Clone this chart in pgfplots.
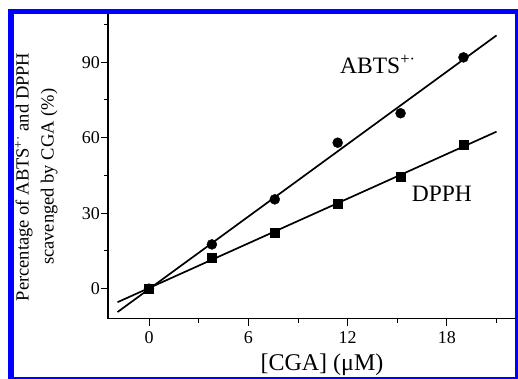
\documentclass[border=0pt]{standalone}
\usepackage{pgfplots}
\pgfplotsset{compat=1.18}
\usepackage{fontspec}
\setmainfont{Liberation Serif}
\definecolor{frameblue}{RGB}{0,0,255}
\begin{document}
\begin{tikzpicture}
\useasboundingbox (0,0) rectangle (518pt,379pt);
\fill[white] (0,0) rectangle (518pt,379pt);
\clip (0,0) rectangle (518pt,379pt);
\begin{axis}[
  at={(149pt,90.3pt)}, anchor=origin,
  x=16.55pt, y=2.517pt,
  xmin=-2.48, xmax=23, ymin=-12, ymax=118,
  axis line style={line width=1.1pt},
  xtick={0,6,12,18}, minor xtick={3,9,15,21},
  ytick={0,30,60,90}, minor ytick={15,45,75,105},
  xtick pos=left, ytick pos=left,
  tick align=outside,
  major tick length=7pt, minor tick length=4pt,
  every tick/.style={black, line width=0.9pt},
  tick label style={font=\fontsize{18}{20}\selectfont},
  /pgf/number format/assume math mode=true,
  xticklabel style={yshift=-2pt},
  yticklabel style={xshift=2.5pt},
  xlabel={[CGA] (μM)},
  xlabel style={font=\fontsize{24}{28}\selectfont, at={(axis description cs:0.5075,-0.1589)}, anchor=base},
  ylabel={Percentage of ABTS\textsuperscript{+·} and DPPH\\scavenged by CGA (\%)},
  ylabel style={font=\fontsize{18.5}{25}\selectfont, align=center, at={(axis description cs:-0.1696,0.434)}, anchor=center},
  clip=false,
]
\addplot[black, line width=1.7pt] coordinates {(-1.9,-9.27) (21,100.65)};
\addplot[black, line width=1.7pt] coordinates {(-1.9,-5.36) (21,62.4)};
\addplot[only marks, mark=*, mark size=5pt, black] coordinates {
  (0,0) (3.8,17.6) (7.6,35.5) (11.4,58.0) (15.2,69.7) (19,91.9)};
\addplot[only marks, mark=square*, mark size=4.4pt, black] coordinates {
  (0,0) (3.8,12.3) (7.6,22.4) (11.4,33.9) (15.2,44.5) (19,57.1)};
\node[anchor=base west, inner sep=0pt, font=\fontsize{23.5}{26}\selectfont] at (axis cs:11.54,85.3) {ABTS\textsuperscript{+·}};
\node[anchor=base west, inner sep=0pt, font=\fontsize{23.5}{26}\selectfont] at (axis cs:15.87,34.6) {DPPH};
\end{axis}
% blue frame
\fill[white] (0,0) rectangle (8pt,379pt);
\fill[white] (0,370pt) rectangle (518pt,379pt);
\fill[frameblue] (8pt,0) rectangle (14pt,370pt);
\fill[frameblue] (8pt,365pt) rectangle (518pt,370pt);
\fill[frameblue] (515pt,0) rectangle (518pt,370pt);
\fill[frameblue] (8pt,0) rectangle (518pt,2.3pt);
\end{tikzpicture}
\end{document}
